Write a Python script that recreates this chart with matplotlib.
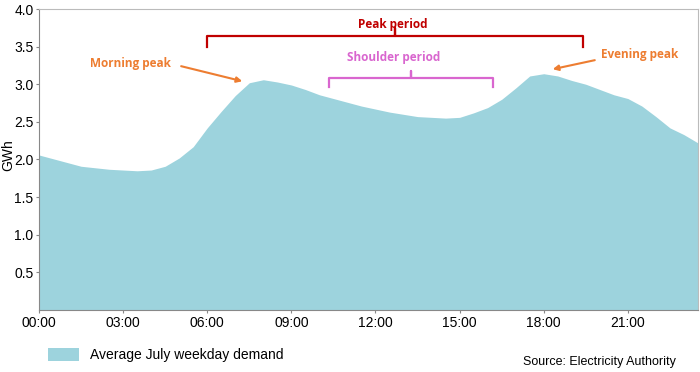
import matplotlib.pyplot as plt
import numpy as np

# half-hourly demand, 00:00 .. 23:30
horas = np.arange(48) / 2
demanda = [2.06, 2.01, 1.96, 1.91, 1.89, 1.87, 1.86, 1.85, 1.86, 1.91,
           2.02, 2.17, 2.42, 2.64, 2.85, 3.02, 3.06, 3.03, 2.99, 2.93,
           2.86, 2.81, 2.76, 2.71, 2.67, 2.63, 2.60, 2.57, 2.56, 2.55,
           2.56, 2.62, 2.69, 2.80, 2.95, 3.11, 3.14, 3.11, 3.05, 3.00,
           2.93, 2.86, 2.81, 2.71, 2.57, 2.42, 2.33, 2.22]
xticks = [0, 3, 6, 9, 12, 15, 18, 21]
xlabels = ["00:00", "03:00", "06:00", "09:00", "12:00", "15:00", "18:00", "21:00"]
yticks = [0.5, 1.0, 1.5, 2.0, 2.5, 3.0, 3.5, 4.0]

plt.rcParams['font.family'] = ['Liberation Sans', 'DejaVu Sans']

fig = plt.figure(figsize=(7, 3.72), dpi=100)
ax = fig.add_axes([0.0557, 0.1667, 0.9414, 0.8091])

relleno = ax.fill_between(horas, demanda, 0, color='#9DD3DD', lw=0,
                          label='Average July weekday demand')
ax.set_xlim(0, 23.5)
ax.set_ylim(0, 4.0)
ax.set_xticks(xticks)
ax.set_xticklabels(xlabels, fontsize=10)
ax.set_yticks(yticks)
ax.set_yticklabels([f"{v:.1f}" for v in yticks], fontsize=10)
fig.text(0.012, 0.583, "GWh", fontsize=10, rotation=90, ha='center', va='center')
ax.tick_params(length=2, width=0.8, color='#888888', pad=2)
for lado in ['top', 'right']:
    ax.spines[lado].set_color('#BBBBBB')
for lado in ['left', 'bottom']:
    ax.spines[lado].set_color('#888888')

# brackets
def corchete(x0, x1, y, alto, color):
    xm = (x0 + x1) / 2
    ax.plot([x0, x0, xm, xm, xm, x1, x1],
            [y - alto, y, y, y + alto * 0.8, y, y, y - alto],
            color=color, lw=1.6, solid_joinstyle='round', clip_on=False)

rojo = '#C00000'
rosa = '#D966CF'
naranja = '#ED7D31'
fuente = ['Open Sans', 'DejaVu Sans']

corchete(6.0, 19.4, 3.64, 0.14, rojo)
ax.text(12.6, 3.8, "Peak period", color=rojo, fontsize=8.5, weight='bold',
        ha='center', va='center', family=fuente)
corchete(10.35, 16.2, 3.08, 0.12, rosa)
ax.text(12.65, 3.35, "Shoulder period", color=rosa, fontsize=8.5, weight='bold',
        ha='center', va='center', family=fuente)

ax.text(3.25, 3.28, "Morning peak", color=naranja, fontsize=8.5, weight='bold',
        ha='center', va='center', family=fuente)
ax.annotate("", xy=(7.25, 3.04), xytext=(5.07, 3.24),
            arrowprops=dict(arrowstyle='-|>', color=naranja, lw=1.5,
                            mutation_scale=8, shrinkA=0, shrinkB=0))
ax.text(21.43, 3.39, "Evening peak", color=naranja, fontsize=8.5, weight='bold',
        ha='center', va='center', family=fuente)
ax.annotate("", xy=(18.32, 3.20), xytext=(19.82, 3.32),
            arrowprops=dict(arrowstyle='-|>', color=naranja, lw=1.5,
                            mutation_scale=8, shrinkA=0, shrinkB=0))

fig.legend(handles=[relleno], loc='center left', bbox_to_anchor=(0.051, 0.045),
           frameon=False, fontsize=10, handlelength=2.2, handleheight=1.0)
fig.text(0.965, 0.027, "Source: Electricity Authority", fontsize=9,
         ha='right', va='center')

fig.savefig('out.png', dpi=100)
